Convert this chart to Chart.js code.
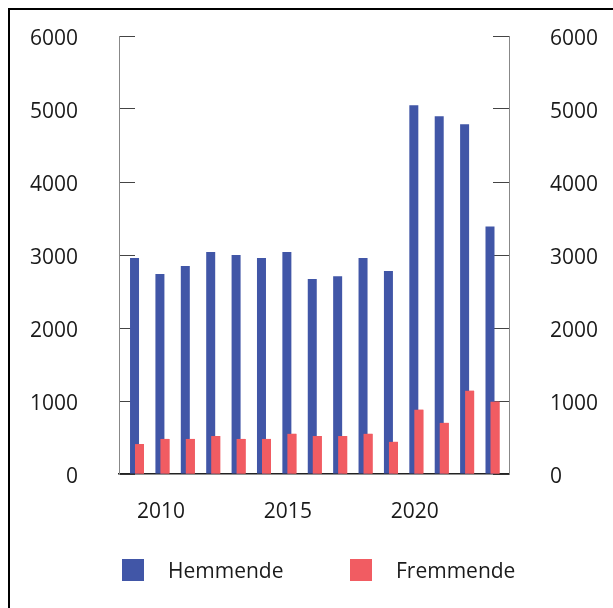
<!DOCTYPE html>
<html><head><meta charset="utf-8">
<script src="https://cdn.jsdelivr.net/npm/chart.js@4/dist/chart.umd.min.js"></script>
<style>
html,body{margin:0;padding:0;background:#fff;width:613px;height:608px;overflow:hidden;position:relative;font-family:'Open Sans',sans-serif;}
#frame{position:absolute;left:8px;top:8px;width:700px;height:700px;border:2px solid #000;box-sizing:border-box;}
#wrap{position:absolute;left:0;top:0;width:613px;height:608px;}
.lg{position:absolute;top:559px;height:22px;display:flex;align-items:center;font-size:21px;color:#1a1a1a;white-space:nowrap;}
.lg i{display:inline-block;width:22px;height:22px;margin-right:24px;flex:none;}
</style></head>
<body>
<div id="frame"></div>
<div id="wrap"><canvas id="c" width="613" height="608"></canvas></div>
<div id="legend"></div>
<script>
const years = [2009,2010,2011,2012,2013,2014,2015,2016,2017,2018,2019,2020,2021,2022,2023];
const hemmende = [2960,2740,2850,3040,3000,2960,3040,2670,2710,2960,2780,5050,4900,4790,3390];
const fremmende = [410,480,480,520,480,480,550,520,520,550,440,880,700,1140,990];
const seriesNames = ['Hemmende','Fremmende'];
const seriesColors = ['#4156a7','#f15c62'];
const xTickYears = [2010,2015,2020];
const yTicks = [0,1000,2000,3000,4000,5000,6000];

const font = {family:"'Open Sans', sans-serif", size:21};
const textColor = '#1a1a1a';

function yAxis(position, width, pad){
  return {
    type:'linear', position, min:0, max:6000,
    afterBuildTicks: s => { s.ticks = yTicks.map(v => ({value:v})); },
    afterFit: s => { s.width = width; s.paddingTop = 0; s.paddingBottom = 0; },
    ticks:{font, color:textColor, padding:pad, labelOffset:3, callback:v=>String(v)},
    grid:{drawOnChartArea:false, drawTicks:true, tickLength:-16, color:'#444', lineWidth:1},
    border:{display:true, color:'#888', width:1}
  };
}

// draw the second series again so it sits on top of the first, as in the reference
const redOnTop = {
  id:'redOnTop',
  afterDatasetsDraw(chart){
    const ctx = chart.ctx;
    ctx.save();
    chart.getDatasetMeta(1).controller.draw();
    ctx.restore();
  }
};

const chart = new Chart(document.getElementById('c'), {
  type:'bar',
  data:{
    datasets:[
      {label:seriesNames[0], data:years.map((y,i)=>({x:y, y:hemmende[i]})), backgroundColor:seriesColors[0], yAxisID:'y'},
      {label:seriesNames[1], data:years.map((y,i)=>({x:y, y:fremmende[i]})), backgroundColor:seriesColors[1], yAxisID:'y'}
    ]
  },
  options:{
    responsive:false, animation:false, devicePixelRatio:1,
    categoryPercentage:0.394, barPercentage:1.8,
    layout:{padding:{top:36, left:0, right:0, bottom:0}},
    plugins:{legend:{display:false}, tooltip:{enabled:false}},
    scales:{
      x:{
        type:'linear', min:2008.29, max:2023.65, offset:false,
        afterBuildTicks: s => { s.ticks = xTickYears.map(v => ({value:v})); },
        afterFit: s => { s.height = 134; },
        ticks:{font, color:textColor, padding:25, labelOffset:-1.5, callback:v=>String(v)},
        grid:{display:false, drawTicks:false, tickLength:0, offset:false},
        border:{display:true, color:'#222', width:1.5}
      },
      y: yAxis('left', 119, 57),
      y2: yAxis('right', 104, 57)
    }
  },
  plugins:[redOnTop]
});

const lg = document.getElementById('legend');
const lefts = [122, 350];
seriesNames.forEach((n,i)=>{
  const d = document.createElement('div');
  d.className='lg'; d.style.left = lefts[i]+'px';
  d.innerHTML = '<i style="background:'+seriesColors[i]+'"></i><span>'+n+'</span>';
  lg.appendChild(d);
});
</script>
</body></html>
